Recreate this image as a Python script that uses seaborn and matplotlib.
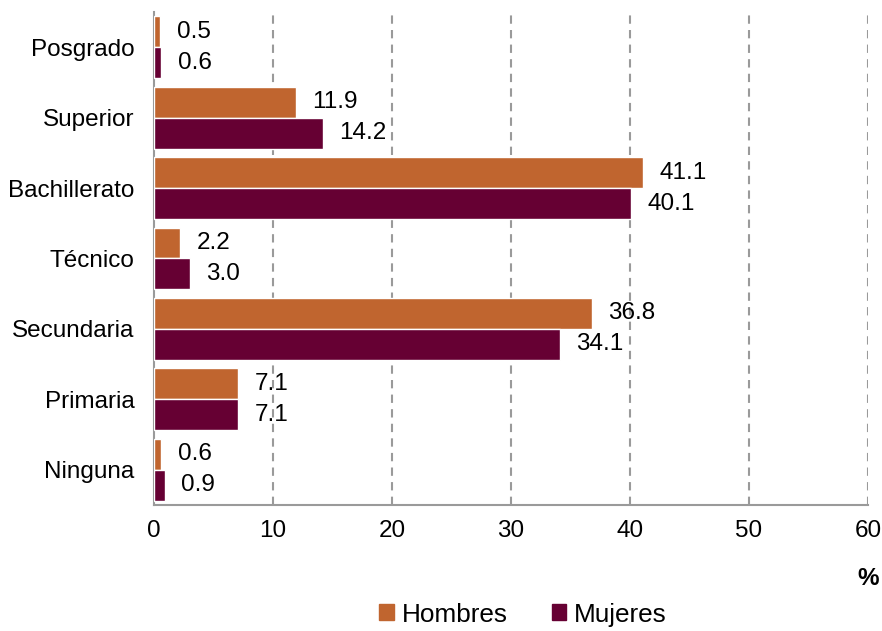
import pandas as pd
import seaborn as sns
import matplotlib.pyplot as plt
from matplotlib.patches import Patch

categorias = ['Posgrado', 'Superior', 'Bachillerato', 'Técnico', 'Secundaria', 'Primaria', 'Ninguna']
hombres = [0.5, 11.9, 41.1, 2.2, 36.8, 7.1, 0.6]
mujeres = [0.6, 14.2, 40.1, 3.0, 34.1, 7.1, 0.9]
xticks = [0, 10, 20, 30, 40, 50, 60]

col_h = '#C0652F'
col_m = '#660033'
gris = '#9a9a9a'

df = pd.DataFrame({
    'nivel': categorias * 2,
    'valor': hombres + mujeres,
    'sexo': ['Hombres'] * len(categorias) + ['Mujeres'] * len(categorias),
})

sns.set_style('white')
plt.rcParams['font.family'] = ['Liberation Sans', 'DejaVu Sans']
plt.rcParams['text.color'] = 'black'
plt.rcParams['xtick.color'] = 'black'
plt.rcParams['ytick.color'] = 'black'
fs = 17.5

fig = plt.figure(figsize=(8.82, 6.31), dpi=100)
ax = fig.add_axes([0.1746, 0.1997, 0.8094, 0.7813])

sns.barplot(data=df, y='nivel', x='valor', hue='sexo', order=categorias,
            palette={'Hombres': col_h, 'Mujeres': col_m}, saturation=1,
            orient='h', width=0.88, edgecolor='white', linewidth=1,
            legend=False, ax=ax, zorder=3)

for cont in ax.containers:
    ax.bar_label(cont, fmt='%.1f', padding=12, fontsize=fs, color='black')

ax.set_xlim(0, 60)
ax.set_ylim(len(categorias) - 0.5, -0.5)
ax.set_xticks(xticks)
ax.set_xticklabels([str(t) for t in xticks])
ax.set_xlabel('')
ax.set_ylabel('')

for t in xticks[1:]:
    ax.axvline(t, color=gris, linestyle=(0, (4, 3)), linewidth=1.5, zorder=1)

sns.despine(ax=ax, top=True, right=True)
for s in ['left', 'bottom']:
    ax.spines[s].set_color(gris)
    ax.spines[s].set_linewidth(1.5)

ax.tick_params(axis='x', direction='inout', length=9, width=1.5, color=gris,
               labelcolor='black', pad=6, labelsize=fs)
ax.set_yticks([i for i in range(len(categorias))])
ax.set_yticklabels(categorias)
ax.set_yticks([i - 0.5 for i in range(len(categorias) + 1)], minor=True)
ax.tick_params(axis='y', which='major', length=0, pad=14, labelsize=fs, labelcolor='black')
ax.tick_params(axis='y', which='minor', direction='out', length=6, width=1.5, color=gris)

fig.text(0.984, 0.083, '%', ha='center', va='center', fontsize=fs, fontweight='bold')

handles = [Patch(color=col_h, label='Hombres'), Patch(color=col_m, label='Mujeres')]
fig.legend(handles=handles, loc='center', bbox_to_anchor=(0.593, 0.026), ncol=2,
           frameon=False, handlelength=0.55, handleheight=0.55, handletextpad=0.3,
           columnspacing=1.7, fontsize=18.8)

plt.savefig('out.png', dpi=100)
